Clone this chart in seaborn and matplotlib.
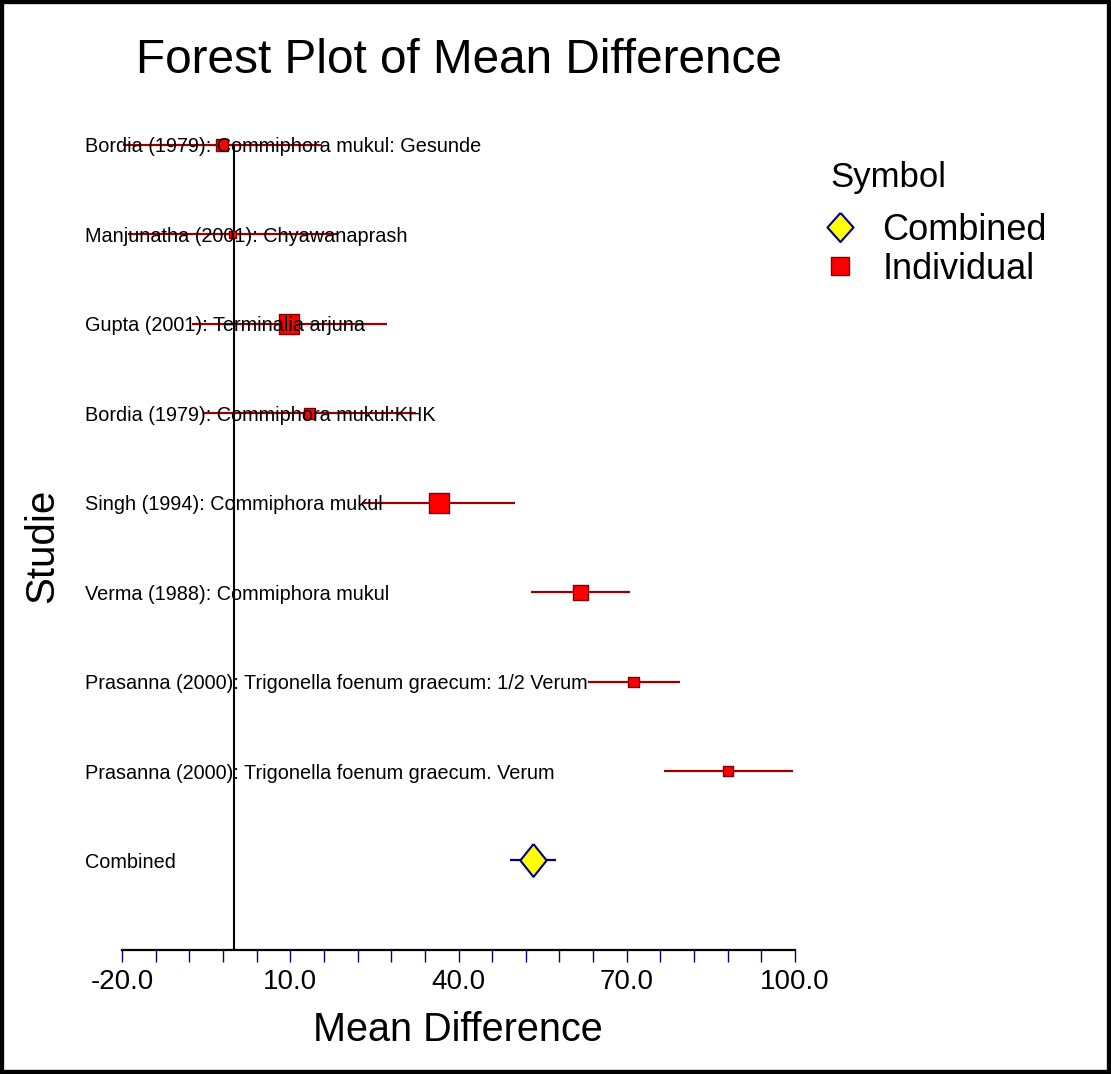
import numpy as np
import pandas as pd
import matplotlib.pyplot as plt
import seaborn as sns
from matplotlib.lines import Line2D
from matplotlib.patches import Rectangle
from matplotlib.ticker import FormatStrFormatter

# Study data
studies = [
    'Bordia (1979): Commiphora mukul: Gesunde',
    'Manjunatha (2001): Chyawanaprash',
    'Gupta (2001): Terminalia arjuna',
    'Bordia (1979): Commiphora mukul:KHK',
    'Singh (1994): Commiphora mukul',
    'Verma (1988): Commiphora mukul',
    'Prasanna (2000): Trigonella foenum graecum: 1/2 Verum',
    'Prasanna (2000): Trigonella foenum graecum. Verum',
]
mean_diff = [-2.2, -0.3, 9.8, 13.5, 36.5, 61.8, 71.2, 88.1]
ci_lower = [-19.9, -18.9, -7.6, -5.5, 22.9, 52.9, 63.0, 76.6]
ci_upper = [15.6, 18.3, 27.2, 32.5, 50.1, 70.6, 79.5, 99.6]
weights = [9.4, 3.2, 26.0, 7.9, 26.0, 14.6, 6.5, 6.5]

combined_label = 'Combined'
combined_mean = 53.3
combined_lower = 49.2
combined_upper = 57.4

x_ticks = np.arange(-20, 101, 30)
x_minor = np.arange(-20, 101, 6)

df = pd.DataFrame({'study': studies, 'mean': mean_diff, 'lower': ci_lower,
                   'upper': ci_upper, 'weight': weights})
df['pos'] = np.arange(len(studies) + 1, 1, -1)
comb = pd.DataFrame({'study': [combined_label], 'mean': [combined_mean],
                     'lower': [combined_lower], 'upper': [combined_upper], 'pos': [1]})

sns.set_theme(style='white')
plt.rcParams['font.family'] = ['Liberation Sans', 'DejaVu Sans']
plt.rcParams['text.color'] = 'black'
plt.rcParams['axes.labelcolor'] = 'black'
plt.rcParams['xtick.labelcolor'] = 'black'

fig = plt.figure(figsize=(11.11, 10.74), dpi=100)
ax = fig.add_axes([0.1098, 0.1155, 0.6058, 0.7914])

red_line = '#990000'
navy = '#000080'
diamond = [(0, 1.25), (1, 0), (0, -1.25), (-1, 0), (0, 1.25)]
legend_diamond = [(0, 1.12), (1, 0), (0, -1.12), (-1, 0), (0, 1.12)]

# confidence intervals
ax.hlines(df['pos'], df['lower'], df['upper'], color=red_line, lw=1.6, zorder=3)
ax.hlines(comb['pos'], comb['lower'], comb['upper'], color=navy, lw=1.6, zorder=3)

# line of no effect
ax.vlines(0, 0, df['pos'].max(), color='black', lw=1.5, zorder=4)

# study markers, area by weight
sns.scatterplot(data=df, x='mean', y='pos', size='weight', sizes=(0, 240),
                size_norm=(0, 30), marker='s', color='#FF0000', edgecolor='#800000',
                linewidth=1, legend=False, zorder=5, ax=ax)
sns.scatterplot(data=comb, x='mean', y='pos', marker=diamond, s=560,
                color='#FFFF00', edgecolor=navy, linewidth=1.5, legend=False,
                zorder=5, ax=ax)

# study labels
for _, row in pd.concat([df, comb]).iterrows():
    ax.text(-0.055, row['pos'], row['study'], transform=ax.get_yaxis_transform(),
            ha='left', va='center_baseline', fontsize=14.3, color='black', zorder=6)

ax.set_xlim(-20, 100)
ax.set_ylim(0, 9.5)
ax.set_xticks(x_ticks)
ax.set_xticks(x_minor, minor=True)
ax.xaxis.set_major_formatter(FormatStrFormatter('%.1f'))
ax.set_yticks([])
ax.tick_params(axis='x', which='both', direction='out', length=8.6, width=1,
               color=navy, labelsize=20, pad=5, bottom=True, labelcolor='black')

for side in ['left', 'top', 'right']:
    ax.spines[side].set_visible(False)
ax.spines['bottom'].set_color('black')
ax.spines['bottom'].set_linewidth(1.6)

ax.set_xlabel('Mean Difference', fontsize=28.5)
ax.xaxis.set_label_coords(0.499, -0.072)
ax.set_ylabel('Studie', fontsize=29)
ax.yaxis.set_label_coords(-0.09, 0.475)

fig.text(459 / 1111, 1 - 73 / 1074, 'Forest Plot of Mean Difference',
         ha='center', va='baseline', fontsize=34.4)

# legend
fig.text(830 / 1111, 1 - 187 / 1074, 'Symbol', ha='left', va='baseline', fontsize=25)
handles = [
    Line2D([], [], ls='none', marker=legend_diamond, markersize=21, markerfacecolor='#FFFF00',
           markeredgecolor=navy, markeredgewidth=1.5),
    Line2D([], [], ls='none', marker='s', markersize=13, markerfacecolor='#FF0000',
           markeredgecolor='#800000', markeredgewidth=1),
]
ax.legend(handles, ['Combined', 'Individual'],
          fontsize=26, loc='upper left', bbox_to_anchor=(822 / 1111, 1 - 213 / 1074),
          bbox_transform=fig.transFigure, frameon=False,
          handlelength=1.0, handletextpad=0.67, labelspacing=0.11,
          borderpad=0, borderaxespad=0)

# figure border
fig.add_artist(Rectangle((0, 0), 1, 1, transform=fig.transFigure, fill=False,
                         lw=6, ec='black'))

fig.savefig('out.png', dpi=100, facecolor='white')
